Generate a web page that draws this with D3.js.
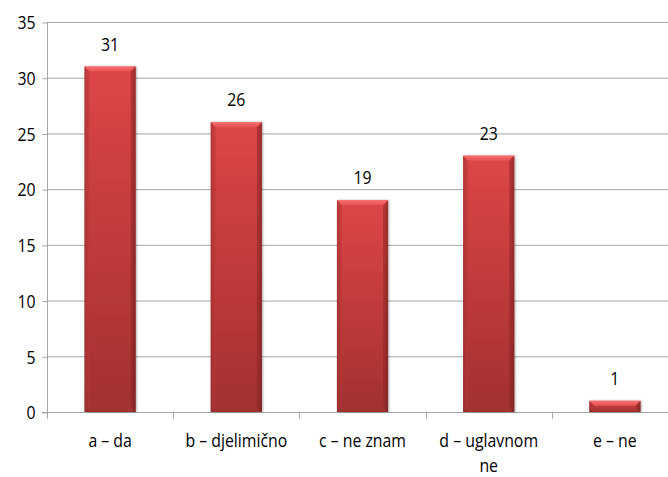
<!DOCTYPE html>
<html><head><meta charset="utf-8">
<script src="https://cdn.jsdelivr.net/npm/d3@7"></script>
<style>
html,body{margin:0;padding:0;background:#fff;}
svg{display:block;}
text{font-family:"Open Sans",sans-serif;font-size:18px;fill:#000;}
</style></head><body>
<svg id="c" width="668" height="477"></svg>
<script>
const categories = ["a – da", "b – djelimično", "c – ne znam", "d – uglavnom ne", "e – ne"];
const catLines = [["a – da"], ["b – djelimično"], ["c – ne znam"], ["d – uglavnom", "ne"], ["e – ne"]];
const values = [31, 26, 19, 23, 1];
const yTicks = [0, 5, 10, 15, 20, 25, 30, 35];

const SX = 0.88;
const svg = d3.select("#c");
const x = d3.scaleBand().domain(categories).range([47, 678]).paddingInner(0.595).paddingOuter(0.2975);
const y = d3.scaleLinear().domain([0, 35]).range([412, 22]);

const defs = svg.append("defs");
const g1 = defs.append("linearGradient").attr("id","gv").attr("x1",0).attr("y1",0).attr("x2",0).attr("y2",1);
g1.append("stop").attr("offset","0%").attr("stop-color","#de4646");
g1.append("stop").attr("offset","100%").attr("stop-color","#a23030");
const g2 = defs.append("linearGradient").attr("id","gh").attr("x1",0).attr("y1",0).attr("x2",1).attr("y2",0);
g2.append("stop").attr("offset","0%").attr("stop-color","#000").attr("stop-opacity",0.22);
g2.append("stop").attr("offset","8%").attr("stop-color","#000").attr("stop-opacity",0);
g2.append("stop").attr("offset","92%").attr("stop-color","#000").attr("stop-opacity",0);
g2.append("stop").attr("offset","100%").attr("stop-color","#000").attr("stop-opacity",0.22);
const g3 = defs.append("linearGradient").attr("id","gt").attr("x1",0).attr("y1",0).attr("x2",0).attr("y2",1);
g3.append("stop").attr("offset","0%").attr("stop-color","#f87070");
g3.append("stop").attr("offset","100%").attr("stop-color","#e85050");
const f = defs.append("filter").attr("id","sh").attr("x","-20%").attr("y","-20%").attr("width","140%").attr("height","140%");
f.append("feDropShadow").attr("dx",1).attr("dy",0).attr("stdDeviation",1.2).attr("flood-color","#000").attr("flood-opacity",0.35);

// gridlines
svg.append("g").selectAll("line").data(yTicks.filter(d=>d>0)).join("line")
  .attr("x1",47).attr("x2",668).attr("y1",d=>y(d)+0.5).attr("y2",d=>y(d)+0.5)
  .attr("stroke","#a6a6a6").attr("stroke-width",1);

// y axis
const ya = svg.append("g").attr("transform","translate(47.5,0.5)")
  .call(d3.axisLeft(y).tickValues(yTicks).tickSize(5).tickPadding(0));
ya.select(".domain").attr("stroke","#a6a6a6").attr("d","M0,22V412");
ya.selectAll(".tick line").attr("stroke","#a6a6a6");
ya.selectAll(".tick text").attr("x",null).attr("dy","0.35em")
  .attr("transform",`translate(-12,0) scale(${SX},1)`).attr("fill","#000");

// x axis
const xa = svg.append("g").attr("transform","translate(0,412.5)");
xa.append("line").attr("x1",42).attr("x2",668).attr("stroke","#a6a6a6");
const bounds = categories.map(c=>x(c)-x.step()*x.paddingInner()/2);
xa.selectAll("line.t").data(bounds).join("line").attr("class","t")
  .attr("x1",d=>Math.round(d)+0.5).attr("x2",d=>Math.round(d)+0.5).attr("y1",0).attr("y2",6).attr("stroke","#a6a6a6");
xa.selectAll("text.cat").data(categories).join("text").attr("class","cat")
  .attr("text-anchor","middle")
  .attr("transform",d=>`translate(${x(d)+x.bandwidth()/2},0) scale(${SX},1)`)
  .each(function(d,i){
    const t=d3.select(this);
    catLines[i].forEach((l,j)=>t.append("tspan").attr("x",0).attr("y",35+j*25).text(l));
  });

// bars
const bars = svg.append("g").selectAll("g").data(values).join("g")
  .attr("transform",(d,i)=>`translate(${x(categories[i])},${y(d)})`);
bars.each(function(d){
  const g=d3.select(this);
  const w=x.bandwidth(), h=y(0)-y(d);
  const b=Math.min(5,h/2);
  g.append("rect").attr("width",w).attr("height",h).attr("fill","url(#gv)").attr("filter","url(#sh)");
  g.append("rect").attr("width",w).attr("height",h).attr("fill","url(#gh)");
  g.append("path").attr("d",`M0,0H${w}L${w-b},${b}H${b}Z`).attr("fill","url(#gt)");
  g.append("path").attr("d",`M0,0L${b},${b}V${h-b}L0,${h}Z`).attr("fill","#b83838").attr("opacity",0.5);
  g.append("path").attr("d",`M${w},0L${w-b},${b}V${h-b}L${w},${h}Z`).attr("fill","#8a2424").attr("opacity",0.5);
});

// value labels
svg.append("g").selectAll("text").data(values).join("text")
  .attr("text-anchor","middle")
  .attr("transform",(d,i)=>`translate(${x(categories[i])+x.bandwidth()/2},${y(d)-16}) scale(${SX},1)`)
  .text(d=>d);
</script></body></html>
